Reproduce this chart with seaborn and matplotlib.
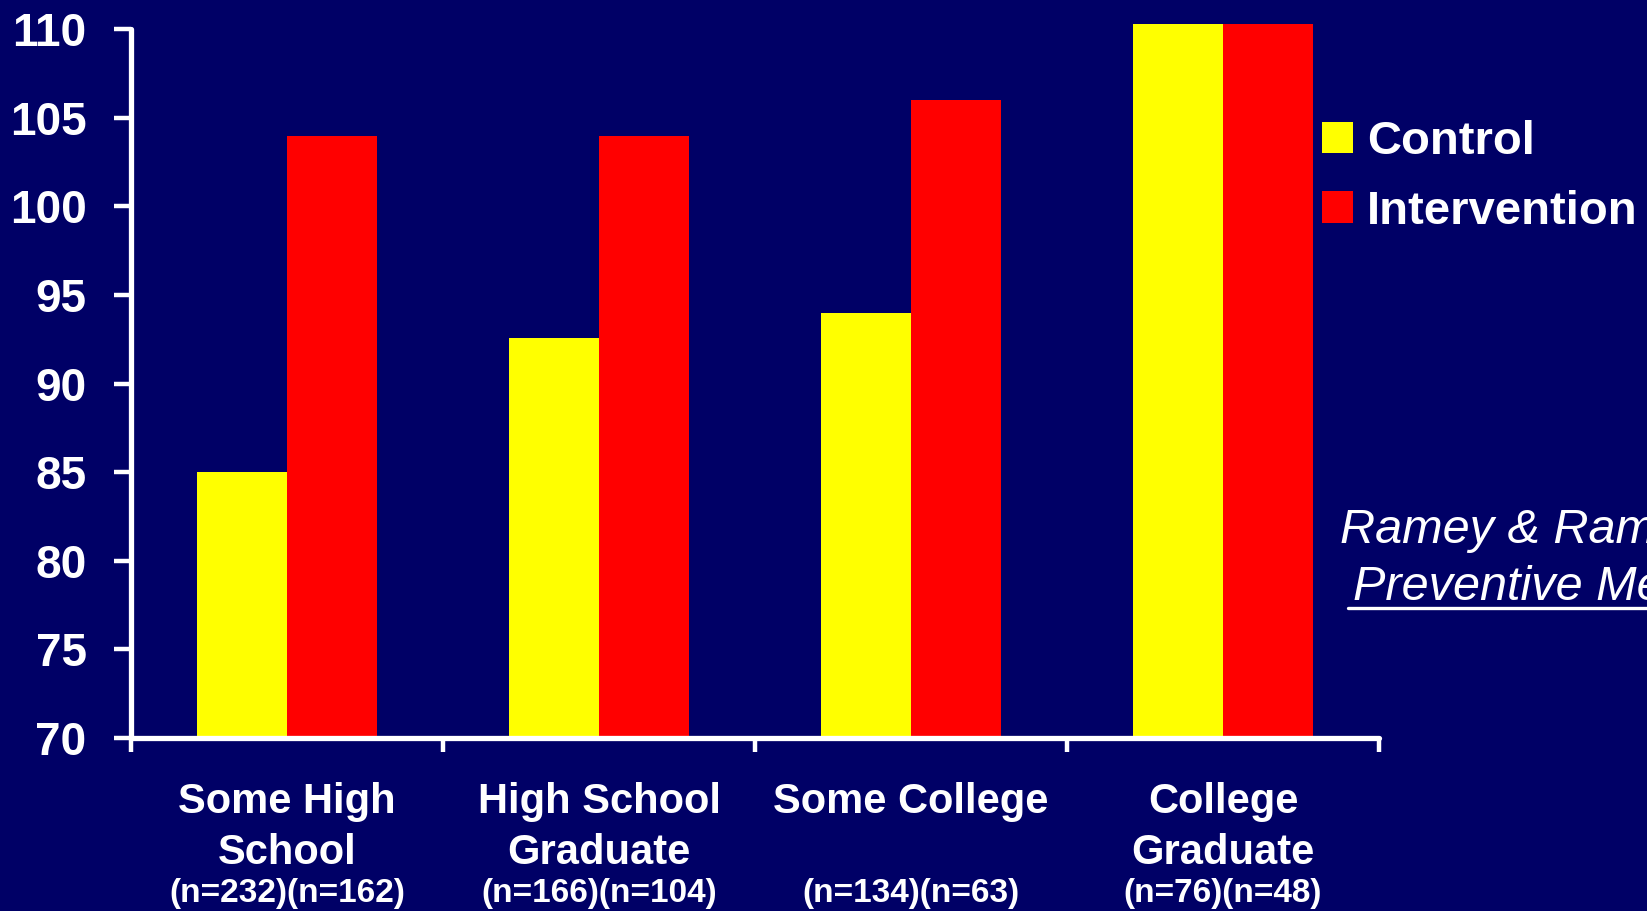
import matplotlib
matplotlib.use("Agg")
import matplotlib.pyplot as plt
import matplotlib.transforms as mtransforms
from matplotlib.patches import Patch
from matplotlib.lines import Line2D
import seaborn as sns
import pandas as pd

# Mean IQ at 36 months by maternal education, control vs. intervention
categories = ["Some High\nSchool", "High School\nGraduate", "Some College", "College\nGraduate"]
control = [85.0, 92.6, 94.0, 110.3]
intervention = [104.0, 104.0, 106.0, 110.3]
n_control = [232, 166, 134, 76]
n_intervention = [162, 104, 63, 48]
groups = ["Control", "Intervention"]
y_ticks = [70, 75, 80, 85, 90, 95, 100, 105, 110]

BG = "#000066"
COLORS = ["#FFFF00", "#FF0000"]
FG = "white"

df = pd.DataFrame({
    "education": categories * 2,
    "iq": control + intervention,
    "group": [groups[0]] * len(categories) + [groups[1]] * len(categories),
})

sns.set_theme(style="white")
plt.rcParams["font.family"] = ["Liberation Sans", "DejaVu Sans"]

W, H = 1647, 911
fig = plt.figure(figsize=(W / 100, H / 100), dpi=100, facecolor=BG)
ax = fig.add_axes([131 / W, 1 - 738 / H, (1379 - 131) / W, (738 - 24) / H])
ax.set_facecolor(BG)

sns.barplot(data=df, x="education", y="iq", hue="group", order=categories,
            hue_order=groups, palette=COLORS, saturation=1, width=0.575,
            linewidth=0, edgecolor="none", legend=False, ax=ax)

ax.set_xlim(-0.5, len(categories) - 0.5)
ax.set_ylim(70, 110.3)
ax.set_xlabel("")
ax.set_ylabel("")

for side in ["top", "right"]:
    ax.spines[side].set_visible(False)
for side in ["left", "bottom"]:
    ax.spines[side].set_color(FG)
    ax.spines[side].set_linewidth(3.8)
    ax.spines[side].set_capstyle("round")
ax.spines["left"].set_bounds(70, 110)

# y axis: outward ticks with bold labels
ax.set_yticks(y_ticks)
ax.set_yticklabels([str(t) for t in y_ticks], fontsize=33, fontweight="bold", color=FG)
ax.tick_params(axis="y", direction="out", length=12, width=3.2, color=FG, pad=20, left=True)

# x axis: ticks mark category boundaries, names drawn below
ax.set_xticks([i - 0.5 for i in range(len(categories) + 1)])
ax.set_xticklabels([])
ax.tick_params(axis="x", direction="out", length=10, width=3.2, color=FG, bottom=True)

trans = mtransforms.blended_transform_factory(ax.transData, fig.transFigure)
line_baselines = [813, 864]
for i, name in enumerate(categories):
    for j, line in enumerate(name.split("\n")):
        ax.text(i, 1 - line_baselines[j] / H, line, transform=trans, ha="center",
                va="baseline", fontsize=30, fontweight="bold", color=FG)
    ax.text(i, 1 - 902 / H, f"(n={n_control[i]})(n={n_intervention[i]})",
            transform=trans, ha="center", va="baseline", fontsize=24,
            fontweight="bold", color=FG)

# legend
handles = [Patch(facecolor=c, edgecolor="none", label=g) for c, g in zip(COLORS, groups)]
leg = fig.legend(handles=handles, loc="center left", bbox_to_anchor=(1322 / W, 1 - 177 / H),
                 frameon=False, fontsize=34, handlelength=0.66, handleheight=0.66,
                 handletextpad=0.3, labelspacing=0.55, borderpad=0, borderaxespad=0)
for t in leg.get_texts():
    t.set_color(FG)
    t.set_fontweight("bold")

# citation
fig.text(1340 / W, 1 - 543 / H, "Ramey & Ramey (1998)", fontsize=35, style="italic",
         color=FG, ha="left", va="baseline")
ref = fig.text(1353 / W, 1 - 600 / H, "Preventive Medicine", fontsize=35, style="italic",
               color=FG, ha="left", va="baseline")
fig.canvas.draw()
bb = ref.get_window_extent()
fig.add_artist(Line2D([(bb.x0 - 5) / W, bb.x1 / W], [1 - 608 / H] * 2,
                      transform=fig.transFigure, color=FG, linewidth=2.4))

fig.savefig("out.png", dpi=100, facecolor=BG)
